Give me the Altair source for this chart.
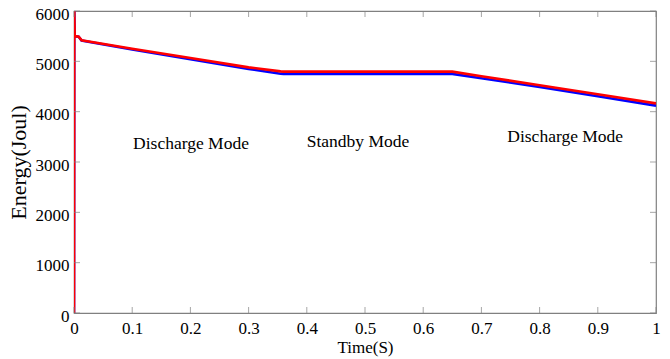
import altair as alt
import pandas as pd

# Stored energy of the two simulated cases over one second
t_red = [0, 0.0005, 0.0012, 0.002, 0.008, 0.013, 0.1, 0.2, 0.3, 0.355, 0.36, 0.65, 0.7, 0.8, 0.9, 1.0]
e_red = [0, 6000, 5500, 5500, 5490, 5420, 5250, 5065, 4880, 4800, 4795, 4795, 4705, 4525, 4345, 4165]

t_blue = [0, 0.0005, 0.0012, 0.002, 0.008, 0.013, 0.1, 0.2, 0.3, 0.355, 0.36, 0.65, 0.7, 0.8, 0.9, 1.0]
e_blue = [0, 6000, 5500, 5500, 5490, 5415, 5235, 5042, 4850, 4755, 4750, 4750, 4665, 4490, 4305, 4120]

# Operating-mode annotations
mode_text = ["Discharge Mode", "Standby Mode", "Discharge Mode"]
mode_t = [0.201, 0.488, 0.844]
mode_e = [3355, 3395, 3495]

x_ticks = [0, 0.1, 0.2, 0.3, 0.4, 0.5, 0.6, 0.7, 0.8, 0.9, 1]
y_ticks = [0, 1000, 2000, 3000, 4000, 5000, 6000]

W, H = 582, 302
FONT = "Liberation Serif"
GRAY = "#808080"

curves = pd.concat([
    pd.DataFrame({"t": t_blue, "e": e_blue, "case": "blue", "order": range(len(t_blue))}),
    pd.DataFrame({"t": t_red, "e": e_red, "case": "red", "order": range(len(t_red))}),
])
modes = pd.DataFrame({"label": mode_text, "t": mode_t, "e": mode_e})
xt = pd.DataFrame({"t": x_ticks})
yt = pd.DataFrame({"e": y_ticks})

xs = alt.Scale(domain=[0, 1], nice=False, zero=False)
ys = alt.Scale(domain=[0, 6000], nice=False)

x_axis = alt.Axis(values=x_ticks, format="~g", title="Time(S)", grid=False, domain=False,
                  ticks=False, labelFont=FONT, labelFontSize=17, labelColor="#000",
                  labelPadding=7, titleFont=FONT, titleFontSize=17, titleFontWeight="normal",
                  titleColor="#000", titlePadding=3, labelFlush=False)
y_axis = alt.Axis(values=y_ticks, format="d", title="Energy(Joul)", grid=False, domain=False,
                  ticks=False, labelFont=FONT, labelFontSize=17, labelColor="#000",
                  labelPadding=5, labelOffset=3, titleFont=FONT, titleFontSize=22,
                  titleFontWeight="normal", titleColor="#000", titlePadding=5)

X = lambda: alt.X("t:Q", scale=xs, axis=x_axis, title="Time(S)")
Y = lambda: alt.Y("e:Q", scale=ys, axis=y_axis, title="Energy(Joul)")

lines = alt.Chart(curves).mark_line(strokeWidth=2.6, clip=True).encode(
    x=X(),
    y=Y(),
    color=alt.Color("case:N", scale=alt.Scale(domain=["blue", "red"], range=["#0000FF", "#FF0000"]),
                    legend=None),
    detail="case:N",
    order="order:Q",
)

labels = alt.Chart(modes).mark_text(font=FONT, fontSize=17.5, color="#000", baseline="middle").encode(
    x=X(), y=Y(), text="label:N",
)

# inward tick marks on all four sides of the frame
tick_style = dict(color=GRAY, thickness=1, size=6)
bottom_ticks = alt.Chart(xt).mark_tick(orient="vertical", **tick_style).encode(
    x=X(), y=alt.value(H - 3))
top_ticks = alt.Chart(xt).mark_tick(orient="vertical", **tick_style).encode(
    x=X(), y=alt.value(3))
left_ticks = alt.Chart(yt).mark_tick(orient="horizontal", **tick_style).encode(
    y=Y(), x=alt.value(3))
right_ticks = alt.Chart(yt).mark_tick(orient="horizontal", **tick_style).encode(
    y=Y(), x=alt.value(W - 3))

chart = alt.layer(
    lines, bottom_ticks, top_ticks, left_ticks, right_ticks, labels
).properties(
    width=W, height=H,
    padding={"left": 74, "top": 11, "right": 14, "bottom": 46},
    autosize=alt.AutoSizeParams(type="none"),
    background="white",
).configure_view(stroke=GRAY, strokeWidth=1.2).configure_axis(
    labelFont=FONT, titleFont=FONT, labelColor="#000", titleColor="#000",
    titleFontWeight="normal", labelFontSize=17,
)

chart.save("out.html", embed_options={"renderer": "svg", "actions": False})
